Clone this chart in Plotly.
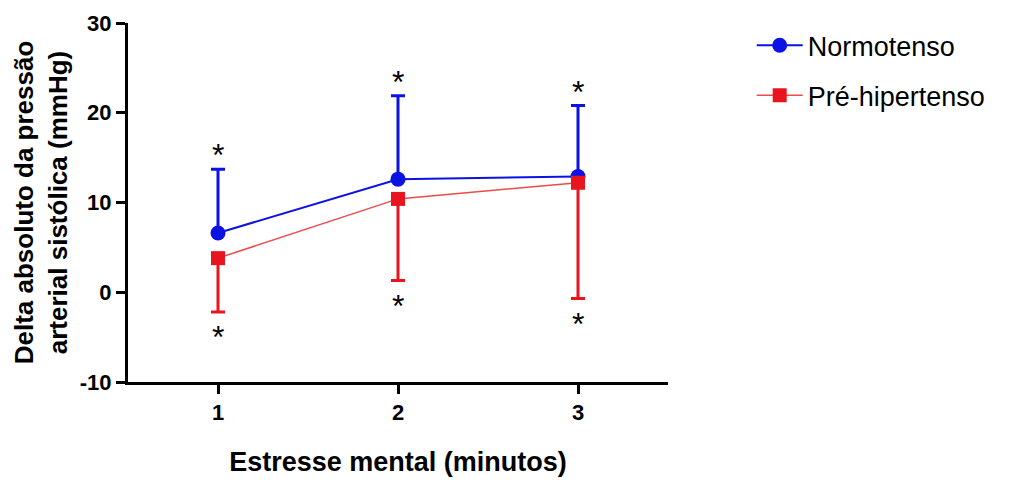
import plotly.graph_objects as go

# Minutes of mental stress
minutes = [1, 2, 3]

# Mean delta of systolic blood pressure (mmHg) and one-sided error
normo_mean = [6.6, 12.6, 12.9]
normo_err_up = [7.1, 9.3, 7.9]

pre_mean = [3.8, 10.4, 12.2]
pre_err_down = [6.0, 9.1, 12.9]

series_names = ["Normotenso", "Pré-hipertenso"]
y_ticks = [-10, 0, 10, 20, 30]
y_tick_labels = ["-10", "0", "10", "20", "30"]

BLUE = "#0c12e4"
RED = "#e8141e"
font_family = "Liberation Sans, Arial, sans-serif"

fig = go.Figure()

fig.add_trace(go.Scatter(
    x=minutes, y=normo_mean, name=series_names[0], mode="lines+markers",
    line=dict(color=BLUE, width=2),
    marker=dict(symbol="circle", size=15, color=BLUE),
    error_y=dict(type="data", symmetric=False, array=normo_err_up,
                 arrayminus=[0, 0, 0], color=BLUE, thickness=3, width=7),
    legendgroup="a",
))
fig.add_trace(go.Scatter(
    x=minutes, y=pre_mean, name=series_names[1], mode="lines+markers",
    line=dict(color="#ee4a4a", width=1.5),
    marker=dict(symbol="square", size=14, color=RED),
    error_y=dict(type="data", symmetric=False, array=[0, 0, 0],
                 arrayminus=pre_err_down, color=RED, thickness=3, width=7),
    legendgroup="b",
))

# Significance markers above / below the error bars
annotations = []
for xv, m, e in zip(minutes, normo_mean, normo_err_up):
    annotations.append(dict(x=xv, y=m + e, text="*", showarrow=False,
                            yshift=14, font=dict(size=32, color="black", family=font_family)))
for xv, m, e in zip(minutes, pre_mean, pre_err_down):
    annotations.append(dict(x=xv, y=m - e, text="*", showarrow=False,
                            yshift=-25, font=dict(size=32, color="black", family=font_family)))

fig.update_layout(
    width=1011, height=482,
    margin=dict(l=128, r=343, t=23, b=100),
    paper_bgcolor="white", plot_bgcolor="white",
    font=dict(family=font_family, color="black"),
    showlegend=True,
    legend=dict(x=1.155, y=1.005, xanchor="left", yanchor="top",
                font=dict(size=27, color="black"), tracegroupgap=12,
                itemwidth=46, bgcolor="rgba(0,0,0,0)"),
    annotations=annotations,
    xaxis=dict(
        range=[0.5, 3.5], tickvals=minutes, ticktext=[str(m) for m in minutes],
        showgrid=False, zeroline=False, showline=True, linecolor="black", linewidth=3,
        ticks="outside", ticklen=9, tickwidth=3, tickcolor="black",
        tickfont=dict(size=22, family="Liberation Sans, Arial", weight="bold"),
        title=dict(text="<b>Estresse mental (minutos)</b>", font=dict(size=27), standoff=28),
        automargin=False,
    ),
    yaxis=dict(
        range=[-10, 30], tickvals=y_ticks, ticktext=y_tick_labels,
        showgrid=False, zeroline=False, showline=True, linecolor="black", linewidth=3,
        ticks="outside", ticklen=9, tickwidth=3, tickcolor="black",
        tickfont=dict(size=22, family="Liberation Sans, Arial", weight="bold"),
        title=dict(text="<b>Delta absoluto da pressão<br>arterial sistólica (mmHg)</b>",
                   font=dict(size=26), standoff=5),
    ),
)

fig.write_html("out.html")
